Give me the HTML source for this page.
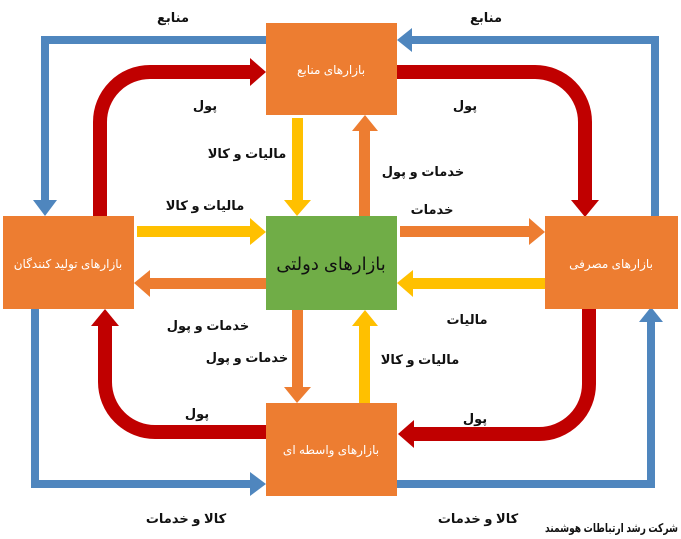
<!DOCTYPE html>
<html><head><meta charset="utf-8"><style>
html,body{margin:0;padding:0;background:#fff;}
svg{display:block;}
text{font-family:"Liberation Sans","DejaVu Sans",sans-serif;}
.l{font-size:13px;font-weight:bold;fill:#111;text-anchor:middle;}
.b{font-size:12px;fill:#fff;text-anchor:middle;}
</style></head><body>
<svg width="681" height="539" viewBox="0 0 681 539" xmlns="http://www.w3.org/2000/svg">
<!-- blue -->
<g fill="none" stroke="#4F86BE" stroke-width="8">
<polyline points="266,40 45,40 45,200"/>
<polyline points="655,216 655,40 412,40"/>
<polyline points="35,309 35,484 250,484"/>
<polyline points="397,484 651,484 651,322"/>
</g>
<g fill="#4F86BE">
<polygon points="33,200 57,200 45,216"/>
<polygon points="412,28 412,52 397,40"/>
<polygon points="250,472 250,496 266,484"/>
<polygon points="639,322 663,322 651,307"/>
</g>
<!-- red -->
<g fill="none" stroke="#C00000" stroke-width="14">
<path d="M100,216 V122 A50,50 0 0 1 150,72 H250"/>
<path d="M397,72 H535 A50,50 0 0 1 585,122 V200"/>
<path d="M589,309 V384 A50,50 0 0 1 539,434 H414"/>
<path d="M266,432 H155 A50,50 0 0 1 105,382 V326"/>
</g>
<g fill="#C00000">
<polygon points="250,58 250,86 266,72"/>
<polygon points="571,200 599,200 585,217"/>
<polygon points="414,420 414,448 398,434"/>
<polygon points="91,326 119,326 105,309"/>
</g>
<!-- yellow -->
<g fill="#FFC000">
<rect x="292" y="118" width="11" height="82"/><polygon points="284,200 311,200 297,216"/>
<rect x="137" y="226" width="113" height="11"/><polygon points="250,218 250,245 266,232"/>
<rect x="413" y="278" width="132" height="11"/><polygon points="413,270 413,297 397,283"/>
<rect x="359" y="326" width="11" height="77"/><polygon points="352,326 378,326 365,310"/>
</g>
<!-- orange arrows -->
<g fill="#ED7D31">
<rect x="359" y="131" width="11" height="85"/><polygon points="352,131 378,131 365,115"/>
<rect x="400" y="226" width="129" height="11"/><polygon points="529,218 529,245 545,232"/>
<rect x="150" y="278" width="116" height="11"/><polygon points="150,270 150,297 134,283"/>
<rect x="292" y="310" width="11" height="77"/><polygon points="284,387 311,387 297,403"/>
</g>
<!-- boxes -->
<g fill="#ED7D31">
<rect x="266" y="23" width="131" height="92"/>
<rect x="3" y="216" width="131" height="93"/>
<rect x="545" y="216" width="133" height="93"/>
<rect x="266" y="403" width="131" height="93"/>
</g>
<rect x="266" y="216" width="131" height="94" fill="#70AD47"/>
<text class="b" x="331" y="74">بازارهای منابع</text>
<text class="b" x="68" y="268">بازارهای تولید کنندگان</text>
<text class="b" x="611" y="268">بازارهای مصرفی</text>
<text class="b" x="331" y="454">بازارهای واسطه ای</text>
<text x="331" y="270" text-anchor="middle" style="font-size:18px;fill:#111;">بازارهای دولتی</text>
<!-- labels -->
<text class="l" x="173" y="22">منابع</text>
<text class="l" x="486" y="22">منابع</text>
<text class="l" x="205" y="110">پول</text>
<text class="l" x="465" y="110">پول</text>
<text class="l" x="247" y="158">مالیات و کالا</text>
<text class="l" x="423" y="176">خدمات و پول</text>
<text class="l" x="205" y="210">مالیات و کالا</text>
<text class="l" x="432" y="214">خدمات</text>
<text class="l" x="208" y="330">خدمات و پول</text>
<text class="l" x="467" y="324">مالیات</text>
<text class="l" x="247" y="362">خدمات و پول</text>
<text class="l" x="420" y="364">مالیات و کالا</text>
<text class="l" x="197" y="418">پول</text>
<text class="l" x="475" y="423">پول</text>
<text class="l" x="186" y="523">کالا و خدمات</text>
<text class="l" x="478" y="523">کالا و خدمات</text>
<text class="l" x="545" y="532" textLength="133" lengthAdjust="spacingAndGlyphs" style="font-size:12px;text-anchor:start;">شرکت رشد ارتباطات هوشمند</text>
</svg>
</body></html>
